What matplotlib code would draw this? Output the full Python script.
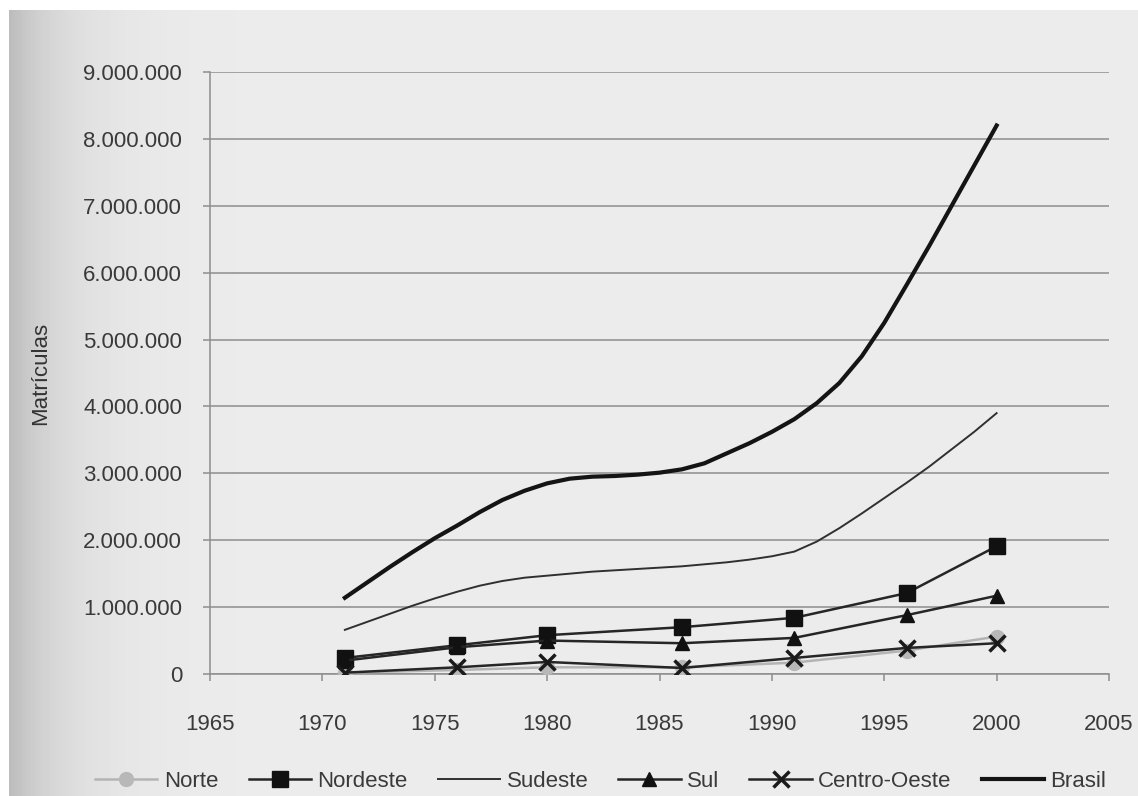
import matplotlib
matplotlib.use("Agg")
import matplotlib.pyplot as plt
import matplotlib.ticker as mticker
import numpy as np

plt.rcParams['font.family'] = ['Liberation Sans', 'DejaVu Sans']

# years with markers (census points)
anos = [1971, 1976, 1980, 1986, 1991, 1996, 2000]
norte = [20000, 60000, 100000, 100000, 170000, 350000, 560000]
nordeste = [240000, 430000, 580000, 700000, 840000, 1210000, 1910000]
sul = [200000, 400000, 500000, 460000, 540000, 880000, 1170000]
centro_oeste = [20000, 100000, 180000, 90000, 240000, 390000, 460000]

# unmarked series
anos_linha = list(range(1971, 2001))
sudeste = [660000, 780000, 900000, 1020000, 1130000, 1230000, 1320000, 1390000,
           1440000, 1470000, 1500000, 1530000, 1550000, 1570000, 1590000, 1610000,
           1640000, 1670000, 1710000, 1760000, 1830000, 1980000, 2180000, 2400000,
           2630000, 2860000, 3100000, 3360000, 3620000, 3900000]
brasil = [1140000, 1370000, 1600000, 1820000, 2030000, 2220000, 2420000, 2600000,
          2740000, 2850000, 2920000, 2950000, 2960000, 2980000, 3010000, 3060000,
          3150000, 3300000, 3450000, 3620000, 3810000, 4050000, 4350000, 4750000,
          5250000, 5820000, 6400000, 7000000, 7600000, 8200000]

W, H = 1138, 796
fig = plt.figure(figsize=(W / 100, H / 100), dpi=100)

# scanned page background: white margin, darker left edge
bg = fig.add_axes([0, 0, 1, 1], zorder=-10)
px = np.arange(W)
row = 0.925 - 0.19 * np.exp(-(px - 9) / 55.0)
img = np.tile(row, (H, 1))
img[:10, :] = 1.0
img[:, :9] = 1.0
bg.imshow(img, cmap='gray', vmin=0, vmax=1, aspect='auto', extent=[0, 1, 0, 1],
          interpolation='nearest')
bg.axis('off')

ax = fig.add_axes([210 / W, 1 - 674 / H, (1109 - 210) / W, (674 - 72) / H])
ax.set_facecolor('none')

grey = '#8e8e8e'
txt = '#3a3a3a'
ax.plot(anos, norte, color='#b4b4b4', lw=1.8, marker='o', ms=10,
        mfc='#b8b8b8', mec='#b8b8b8', label='Norte', zorder=3)
ax.plot(anos, nordeste, color='#262626', lw=1.8, marker='s', ms=11,
        mfc='#111111', mec='#111111', label='Nordeste', zorder=4)
ax.plot(anos_linha, sudeste, color='#303030', lw=1.4, label='Sudeste', zorder=4)
ax.plot(anos, sul, color='#262626', lw=1.8, marker='^', ms=10,
        mfc='#111111', mec='#111111', label='Sul', zorder=4)
ax.plot(anos, centro_oeste, color='#262626', lw=1.8, marker='x', ms=11,
        mew=2.5, mec='#1a1a1a', label='Centro-Oeste', zorder=5)
ax.plot(anos_linha, brasil, color='#141414', lw=3, label='Brasil', zorder=4,
        solid_joinstyle='round')

ax.set_xlim(1965, 2005)
ax.set_ylim(0, 9000000)
ax.set_xticks(range(1965, 2006, 5))
ax.set_yticks(range(0, 9000001, 1000000))
ax.yaxis.set_major_formatter(mticker.FuncFormatter(lambda v, p: f"{int(v):,}".replace(',', '.')))

ax.grid(axis='y', color=grey, lw=1.1)
ax.set_axisbelow(True)
for s in ['top', 'right']:
    ax.spines[s].set_visible(False)
for s in ['left', 'bottom']:
    ax.spines[s].set_color(grey)
    ax.spines[s].set_linewidth(1.1)
ax.tick_params(axis='y', length=5, color=grey, width=1.1, labelsize=16,
               labelcolor=txt, pad=15)
ax.tick_params(axis='x', length=5, color=grey, width=1.1, labelsize=16,
               labelcolor=txt, pad=24)

ax.set_ylabel('Matrículas', fontsize=16, color='#333333', labelpad=23)

fig.legend(loc='center', bbox_to_anchor=(0.528, 0.018), ncol=6, frameon=False,
           fontsize=16, handlelength=2.8, columnspacing=1.35, handletextpad=0.3,
           labelcolor=txt)

fig.savefig('out.png', dpi=100)
